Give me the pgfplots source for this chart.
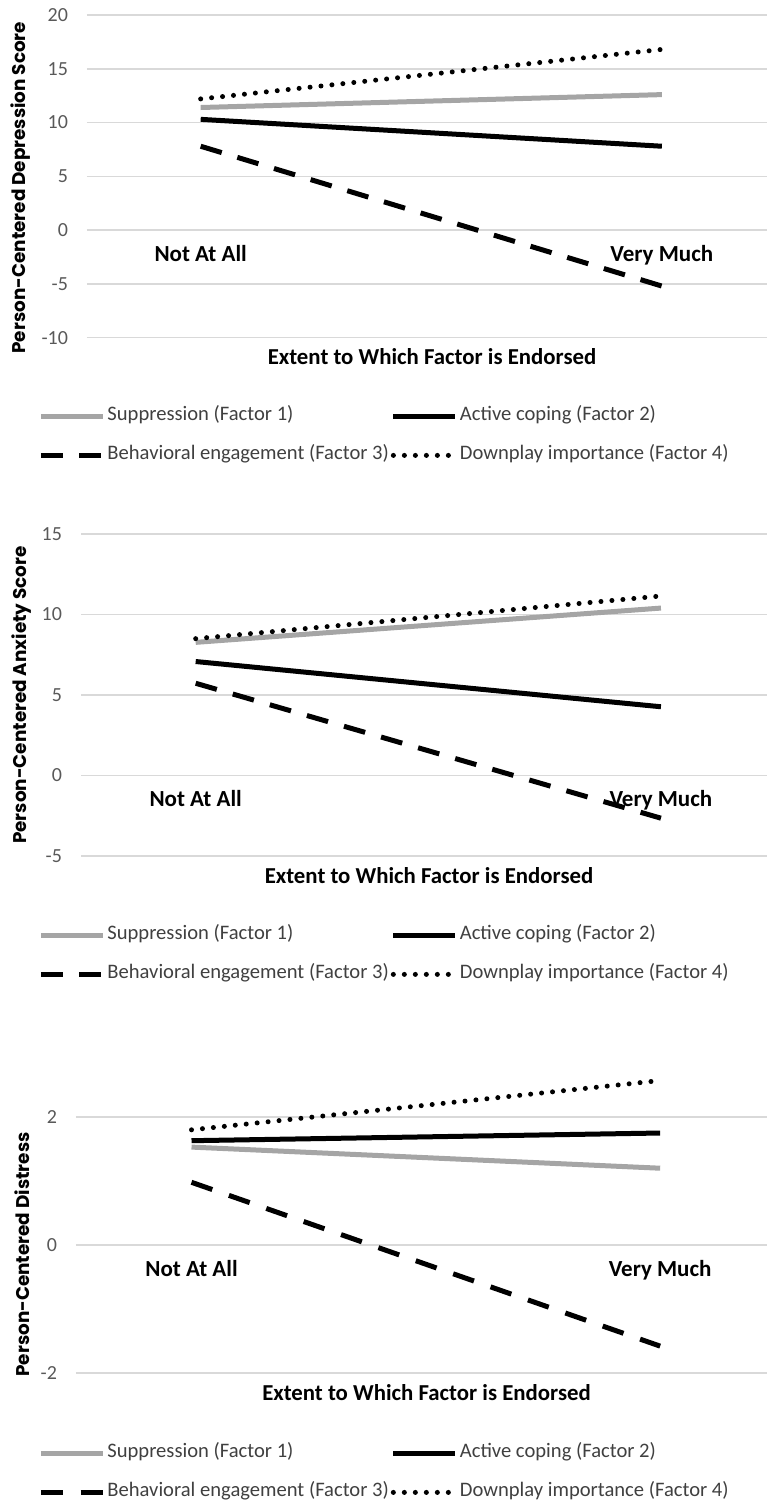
\documentclass[border=0pt]{standalone}
\usepackage{fontspec}
\setmainfont{Carlito}
\newfontfamily\ylabfont{Poppins}
\usepackage{pgfplots}
\pgfplotsset{compat=1.18}
\definecolor{gridgray}{HTML}{D9D9D9}
\definecolor{tickgray}{HTML}{595959}
\definecolor{supgray}{HTML}{A5A5A5}
\definecolor{legtext}{HTML}{404040}
\tikzset{cat/.style={font=\bfseries\fontsize{11.5}{13}\selectfont, anchor=base, yshift=-15.7pt}}
\pgfplotsset{
 panel/.style={
  scale only axis,
  xmin=-0.2465, xmax=1.228,
  axis line style={draw=none},
  xtick=\empty,
  ymajorgrids, grid style={gridgray, line width=0.75pt},
  major tick length=0pt,
  yticklabel style={font=\fontsize{10}{12}\selectfont, text=tickgray, xshift=-6pt},
  xlabel={Extent to Which Factor is Endorsed},
  xlabel style={font=\bfseries\fontsize{11.4}{13}\selectfont, at={(axis description cs:0.5,0)}, anchor=center, yshift=-9.6pt, xshift=2.5pt},
  ylabel style={font=\ylabfont\bfseries\fontsize{9.2}{11}\selectfont, anchor=center},
  legend columns=2,
  legend cell align=left,
  legend style={draw=none, fill=none, anchor=north west, inner sep=0pt,
    font=\fontsize{10.3}{12}\selectfont, text=legtext,
    nodes={inner sep=1pt, text height=7pt, text depth=2.5pt},
    row sep=8pt,
    column 2/.style={nodes={text width=143pt, align=left}}},
  legend image code/.code={\draw[##1] (0pt,0pt) -- (31pt,0pt);},
  clip=false,
 },
 sup/.style={supgray, line width=2.5pt},
 act/.style={black, line width=2.5pt},
 beh/.style={black, line width=2.5pt, dash pattern=on 11pt off #1},
 beh/.default=8.2pt,
 dwn/.style={black, line width=2.5pt, line cap=round, dash pattern=on 0pt off 5.5pt},
}
\begin{document}
\begin{tikzpicture}
\useasboundingbox (0,0) rectangle (383.5pt,-752.5pt);
% Panel 1
\begin{axis}[panel, at={(43.5pt,-168.85pt)}, anchor=south west,
  width=340pt, height=161.35pt, ymin=-10, ymax=20,
  ytick={-10,-5,0,5,10,15,20}, yticklabels={-10,-5,0,5,10,15,20},
  ylabel={Person-Centered Depression Score},
  ylabel style={at={(axis description cs:-0.097,0.465)}},
  legend style={at={(axis description cs:-0.072,-0.207)}}]
\addplot[sup] coordinates {(0,11.4) (1,12.6)};
\addlegendentry{Suppression (Factor 1)}
\addplot[act] coordinates {(0,10.3) (1,7.8)};
\addlegendentry{Active coping (Factor 2)}
\addplot[beh=8.15pt] coordinates {(0,7.8) (1,-5.2)};
\addlegendentry{Behavioral engagement (Factor 3)}
\addplot[dwn] coordinates {(0,12.2) (1,16.8)};
\addlegendentry{Downplay importance (Factor 4)}
\node[cat] at (axis cs:0,0) {Not At All};
\node[cat] at (axis cs:1,0) {Very Much};
\end{axis}
% Panel 2
\begin{axis}[panel, at={(40.5pt,-428pt)}, anchor=south west,
  width=343pt, height=161pt, ymin=-5, ymax=15,
  ytick={-5,0,5,10,15}, yticklabels={-5,0,5,10,15},
  ylabel={Person-Centered Anxiety Score},
  ylabel style={at={(axis description cs:-0.086,0.5)}},
  legend style={at={(axis description cs:-0.0627,-0.2096)}}]
\addplot[sup] coordinates {(0,8.27) (1,10.4)};
\addlegendentry{Suppression (Factor 1)}
\addplot[act] coordinates {(0,7.08) (1,4.27)};
\addlegendentry{Active coping (Factor 2)}
\addplot[beh=8.3pt] coordinates {(0,5.73) (1,-2.65)};
\addlegendentry{Behavioral engagement (Factor 3)}
\addplot[dwn] coordinates {(0,8.5) (1,11.15)};
\addlegendentry{Downplay importance (Factor 4)}
\node[cat] at (axis cs:0,0) {Not At All};
\node[cat] at (axis cs:1,0) {Very Much};
\end{axis}
% Panel 3
\begin{axis}[panel, at={(38pt,-686.5pt)}, anchor=south west,
  width=345.5pt, height=128pt, ymin=-2, ymax=2,
  ytick={-2,0,2}, yticklabels={-2,0,2},
  ylabel={Person-Centered Distress},
  ylabel style={at={(axis description cs:-0.078,0.463)}},
  legend style={at={(axis description cs:-0.055,-0.2676)}}]
\addplot[sup] coordinates {(0,1.53) (1,1.20)};
\addlegendentry{Suppression (Factor 1)}
\addplot[act] coordinates {(0,1.63) (1,1.75)};
\addlegendentry{Active coping (Factor 2)}
\addplot[beh=8.8pt] coordinates {(0,0.98) (1,-1.58)};
\addlegendentry{Behavioral engagement (Factor 3)}
\addplot[dwn] coordinates {(0,1.80) (1,2.57)};
\addlegendentry{Downplay importance (Factor 4)}
\node[cat] at (axis cs:0,0) {Not At All};
\node[cat] at (axis cs:1,0) {Very Much};
\end{axis}
\end{tikzpicture}
\end{document}
